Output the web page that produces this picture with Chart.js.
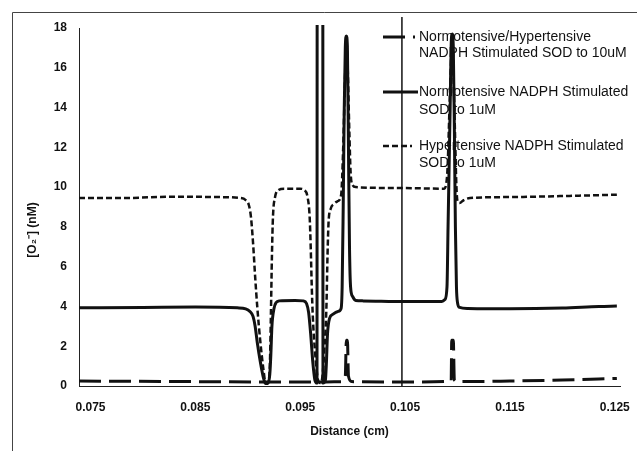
<!DOCTYPE html>
<html>
<head>
<meta charset="utf-8">
<script src="https://cdn.jsdelivr.net/npm/chart.js@4.4.0/dist/chart.umd.min.js"></script>
<style>
  html, body { margin: 0; padding: 0; background: #fff; }
  #wrap { width: 637px; height: 451px; }
</style>
</head>
<body>
<div id="wrap"><canvas id="o2Chart" width="637" height="451"></canvas></div>
<script>
// Superoxide concentration across the section, three SOD cases
const seriesLabels = [
  ['Normotensive/Hypertensive', 'NADPH Stimulated SOD to 10uM'],
  ['Normotensive NADPH Stimulated', 'SOD to 1uM'],
  ['Hypertensive NADPH Stimulated', 'SOD to 1uM']
];

// SOD 10uM (both groups)
const lowX = [0.0739, 0.0850, 0.0917, 0.0969, 0.0990, 0.0993, 0.0994, 0.0995, 0.0996, 0.0999,
  0.1050, 0.1094, 0.10945, 0.1096, 0.1097, 0.1100, 0.1150, 0.1200, 0.1252];
const lowY = [0.25, 0.22, 0.2, 0.2, 0.22, 0.5, 2.3, 2.3, 0.5, 0.22,
  0.2, 0.25, 2.3, 2.3, 0.3, 0.22, 0.25, 0.3, 0.38];

// Normotensive, SOD 1uM
const normX = [0.0739, 0.0800, 0.0850, 0.0890, 0.0898, 0.0902, 0.0905, 0.0907, 0.0909, 0.0912,
  0.0915, 0.0917, 0.0919, 0.0921, 0.0922, 0.0923, 0.0925, 0.0927, 0.0930, 0.0945,
  0.0953, 0.0956, 0.0958, 0.0960, 0.0962, 0.0964, 0.0966, 0.09663, 0.09714, 0.09717,
  0.0974, 0.0975, 0.0976, 0.0978, 0.0981, 0.0986, 0.0989, 0.0990, 0.0991, 0.0992,
  0.0993, 0.0994, 0.0995, 0.0996, 0.0997, 0.0998, 0.1000, 0.1003, 0.1010, 0.1050,
  0.1085, 0.1088, 0.1090, 0.1091, 0.1093, 0.1094, 0.1095, 0.1096, 0.1097, 0.1098,
  0.1099, 0.1100, 0.1102, 0.1110, 0.1150, 0.1200, 0.1235, 0.1252];
const normY = [3.93, 3.95, 3.97, 3.93, 3.88, 3.75, 3.5, 3.0, 2.2, 1.2,
  0.4, 0.12, 0.12, 0.6, 1.6, 3.0, 3.9, 4.2, 4.28, 4.3,
  4.28, 4.15, 3.7, 2.6, 1.2, 0.3, 0.15, 40, 40, 0.15,
  0.3, 1.2, 2.6, 3.4, 3.6, 3.75, 3.9, 5, 9, 14,
  17, 17.6, 17, 12, 7, 5, 4.5, 4.3, 4.28, 4.25,
  4.25, 4.35, 5, 8, 14, 17.2, 17.7, 17, 13, 8,
  5, 4.2, 3.95, 3.9, 3.88, 3.92, 4.0, 4.02];

// Hypertensive, SOD 1uM
const hypX = [0.0739, 0.0780, 0.0830, 0.0870, 0.0893, 0.0898, 0.0901, 0.0903, 0.0905, 0.0907,
  0.0909, 0.0912, 0.0915, 0.0917, 0.0919, 0.0921, 0.0922, 0.0923, 0.0924, 0.0926,
  0.0929, 0.0935, 0.0950, 0.0954, 0.0957, 0.0959, 0.0960, 0.0961, 0.0962, 0.0964,
  0.0967, 0.0969, 0.0971, 0.0973, 0.0975, 0.0976, 0.0977, 0.0979, 0.0982, 0.0986,
  0.0989, 0.0991, 0.0993, 0.0994, 0.0995, 0.0997, 0.0998, 0.1000, 0.1003, 0.1050,
  0.1087, 0.1090, 0.1093, 0.1095, 0.1097, 0.1099, 0.1100, 0.1102, 0.1106, 0.1112,
  0.1150, 0.1200, 0.1252];
const hypY = [9.45, 9.45, 9.52, 9.5, 9.45, 9.35, 9.1, 8.5, 7.2, 5.5,
  4.0, 2.2, 0.8, 0.15, 0.15, 1.0, 3.5, 6.5, 8.5, 9.5,
  9.85, 9.92, 9.92, 9.85, 9.5, 8.5, 7.0, 5.0, 3.5, 1.8,
  0.3, 0.15, 0.4, 1.8, 4.0, 6.5, 8.2, 8.9, 9.15, 9.3,
  9.6, 12, 16, 17.5, 16.5, 12.5, 10.8, 10.1, 10.0, 9.95,
  9.92, 10.5, 15, 17.6, 14, 10, 9.3, 9.2, 9.35, 9.45,
  9.5, 9.55, 9.62];

// vertical reference line
const markX = [0.1047, 0.1047];
const markY = [0, 20];

const xTicks = [0.075, 0.085, 0.095, 0.105, 0.115, 0.125];
const yTicks = [0, 2, 4, 6, 8, 10, 12, 14, 16, 18];

function points(xs, ys) {
  return xs.map((x, i) => ({ x: x, y: ys[i] }));
}

const FONT = "'Liberation Sans', Arial, sans-serif";
const INK = '#111';

// frame, y title and the legend block inside the plot
const decorations = {
  id: 'decorations',
  beforeDraw(chart) {
    const ctx = chart.ctx;
    ctx.save();
    ctx.strokeStyle = '#444';
    ctx.lineWidth = 1;
    ctx.beginPath();
    ctx.moveTo(12.5, 451);
    ctx.lineTo(12.5, 12.5);
    ctx.lineTo(637, 12.5);
    ctx.stroke();
    ctx.restore();
  },
  afterDraw(chart) {
    const ctx = chart.ctx;
    ctx.save();
    ctx.fillStyle = INK;
    ctx.font = 'bold 12px ' + FONT;
    ctx.textAlign = 'center';
    ctx.textBaseline = 'middle';
    ctx.translate(33, 230);
    ctx.rotate(-Math.PI / 2);
    ctx.fillText('[O\u2082\u207B] (nM)', 0, 0);
    ctx.restore();

    const rows = [
      { y: 37, x2: 415, lines: [37, 53] },
      { y: 92, x2: 418, lines: [92, 110] },
      { y: 146, x2: 412, lines: [146, 163] }
    ];
    ctx.save();
    ctx.font = '14px ' + FONT;
    ctx.textAlign = 'left';
    ctx.textBaseline = 'middle';
    rows.forEach((r, i) => {
      const ds = chart.data.datasets[i];
      ctx.strokeStyle = ds.borderColor;
      ctx.lineWidth = ds.borderWidth;
      ctx.setLineDash(ds.borderDash || []);
      ctx.beginPath();
      ctx.moveTo(383, r.y);
      ctx.lineTo(r.x2, r.y);
      ctx.stroke();
      ctx.fillStyle = INK;
      seriesLabels[i].forEach((t, j) => ctx.fillText(t, 419, r.lines[j]));
    });
    ctx.restore();
  }
};

new Chart(document.getElementById('o2Chart'), {
  type: 'scatter',
  data: {
    datasets: [
      {
        label: seriesLabels[0].join(' '),
        data: points(lowX, lowY),
        borderColor: INK,
        borderWidth: 3,
        borderDash: [22, 8]
      },
      {
        label: seriesLabels[1].join(' '),
        data: points(normX, normY),
        borderColor: INK,
        borderWidth: 3,
        clip: { left: 0, top: 3, right: 0, bottom: 0 }
      },
      {
        label: seriesLabels[2].join(' '),
        data: points(hypX, hypY),
        borderColor: INK,
        borderWidth: 2.5,
        borderDash: [6, 3]
      },
      {
        label: 'x = 0.1047',
        data: points(markX, markY),
        borderColor: INK,
        borderWidth: 1.5,
        cubicInterpolationMode: 'default',
        clip: { left: 0, top: 11, right: 0, bottom: 0 }
      }
    ]
  },
  options: {
    responsive: false,
    animation: false,
    showLine: true,
    elements: {
      point: { radius: 0, hoverRadius: 0 },
      line: { cubicInterpolationMode: 'monotone', borderJoinStyle: 'round', fill: false }
    },
    layout: { padding: { top: 28, right: 17, left: 0, bottom: 0 } },
    plugins: {
      legend: { display: false },
      tooltip: { enabled: false }
    },
    scales: {
      x: {
        type: 'linear',
        min: 0.0739,
        max: 0.1255,
        grid: { display: false, drawTicks: false },
        border: { display: true, color: '#222', width: 1 },
        afterBuildTicks: (scale) => { scale.ticks = xTicks.map(v => ({ value: v })); },
        afterFit: (scale) => { scale.height = 65; scale.paddingLeft = 0; scale.paddingRight = 0; },
        ticks: {
          autoSkip: false,
          maxRotation: 0,
          padding: 14,
          color: INK,
          font: { family: FONT, size: 12, weight: 'bold' },
          callback: (v) => v.toFixed(3)
        },
        title: {
          display: true,
          text: 'Distance (cm)',
          color: INK,
          font: { family: FONT, size: 12, weight: 'bold' },
          padding: { top: 0, bottom: 12 }
        }
      },
      y: {
        type: 'linear',
        min: 0,
        max: 18,
        grid: { display: false, drawTicks: false },
        border: { display: true, color: '#222', width: 1 },
        afterBuildTicks: (scale) => { scale.ticks = yTicks.map(v => ({ value: v })); },
        afterFit: (scale) => { scale.width = 79; scale.paddingTop = 0; scale.paddingBottom = 0; },
        ticks: {
          padding: 12,
          color: INK,
          font: { family: FONT, size: 12, weight: 'bold' }
        }
      }
    }
  },
  plugins: [decorations]
});
</script>
</body>
</html>
